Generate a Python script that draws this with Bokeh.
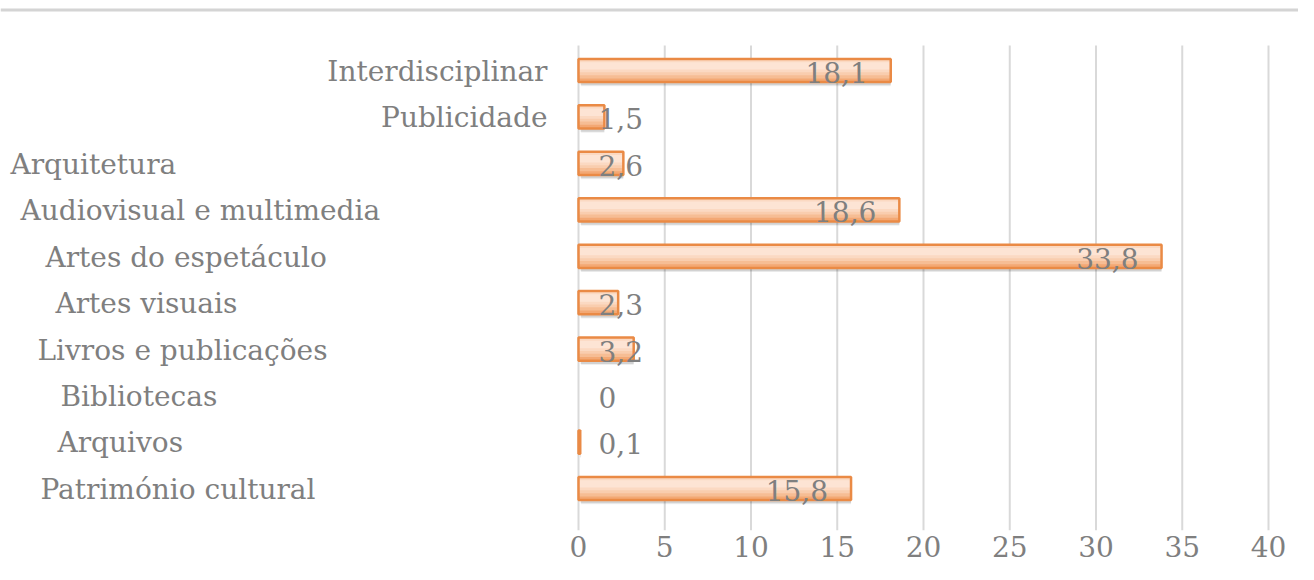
from bokeh.plotting import figure
from bokeh.models import (ColumnDataSource, Range1d, LinearAxis, FixedTicker, Span,
                          CDSView, BooleanFilter)
from bokeh.transform import dodge
from bokeh.core.properties import value
from bokeh.embed import file_html
from bokeh.resources import INLINE

# ---- data (bottom to top) ----
categories = ["Património cultural", "Arquivos", "Bibliotecas", "Livros e publicações",
              "Artes visuais", "Artes do espetáculo", "Audiovisual e multimedia",
              "Arquitetura", "Publicidade", "Interdisciplinar"]
values = [15.8, 0.1, 0.0, 3.2, 2.3, 33.8, 18.6, 2.6, 1.5, 18.1]
value_labels = ["15,8", "0,1", "0", "3,2", "2,3", "33,8", "18,6", "2,6", "1,5", "18,1"]
tick_values = [0, 5, 10, 15, 20, 25, 30, 35, 40]

# ---- layout / style ----
label_px = [40, 57, 60, 37, 55, 45, 20, 10, 547, 547]
label_align = ["left"] * 8 + ["right", "right"]
# gradient bands: (bottom, top, colour) in category units relative to bar centre
bands = [(-0.25, 0.25, "#f3a874"), (-0.17, 0.25, "#f6bd94"), (-0.10, 0.25, "#f9cdae"),
         (-0.04, 0.23, "#fbd9c2"), (0.02, 0.18, "#fde4d4")]

FONT = "DejaVu Serif"
FS = "28px"
GRAY = "#7f7f7f"
W, H = 1298, 572
ZERO_PX = 578
PX_PER_UNIT = 17.25
ROW_PX = 46.44
FRAME_BOTTOM = 530

ys = list(range(len(categories)))
x0 = (0 - ZERO_PX) / PX_PER_UNIT
x1 = (W - ZERO_PX) / PX_PER_UNIT
y_top = 9 + 70 / ROW_PX
y_bot = -(FRAME_BOTTOM - 488) / ROW_PX

p = figure(width=W, height=H, output_backend="svg", toolbar_location=None,
           x_range=Range1d(x0, x1), y_range=Range1d(y_bot, y_top),
           min_border_left=0, min_border_right=0, min_border_top=0,
           min_border_bottom=H - FRAME_BOTTOM,
           x_axis_type=None, y_axis_type=None)
p.outline_line_color = None
p.grid.visible = False
p.background_fill_color = "white"

# top frame line
p.add_layout(Span(location=9 + (70 - 9.5) / ROW_PX, dimension="width",
                  line_color="#d4d4d4", line_width=3))

# vertical gridlines
g_top = 9 + (70 - 45) / ROW_PX
p.segment(x0=tick_values, x1=tick_values, y0=[y_bot] * len(tick_values),
          y1=[g_top] * len(tick_values), line_color="#d9d9d9", line_width=2)

small = [v < 5 for v in values]
src = ColumnDataSource(dict(
    y=ys, v=values, lab=value_labels, cat=categories,
    lx=[0 if s else v for s, v in zip(small, values)],
    lalign=["left" if s else "right" for s in small],
    loff=[20 if s else -23 for s in small],
    cx=[0] * len(categories),
    coff=[px - ZERO_PX for px in label_px],
    calign=label_align,
))
nonzero = CDSView(filter=BooleanFilter([v > 0 for v in values]))

# shadow
p.hbar(y=dodge("y", -0.07), left=0.12, right="v", height=0.5, source=src, view=nonzero,
       fill_color="#000000", fill_alpha=0.12, line_color=None)
p.hbar(y=dodge("y", -0.09), left=0.15, right="v", height=0.5, source=src, view=nonzero,
       fill_color="#000000", fill_alpha=0.06, line_color=None)
# gradient-like fill
for b0, b1, col in bands:
    p.hbar(y=dodge("y", (b0 + b1) / 2), left=0, right="v", height=b1 - b0, source=src,
           view=nonzero, fill_color=col, line_color=None)
# outline
p.hbar(y="y", left=0, right="v", height=0.5, source=src, view=nonzero,
       fill_color=None, line_color="#ea8a45", line_width=2.5)

# value labels
p.text(x="lx", y=dodge("y", -0.04), text="lab", source=src, x_offset="loff",
       text_align="lalign", text_baseline="middle", text_font=value(FONT),
       text_font_size=FS, text_color=GRAY)

# category labels
p.text(x="cx", y=dodge("y", -0.02), text="cat", source=src, x_offset="coff",
       text_align="calign", text_baseline="middle", text_font=value(FONT),
       text_font_size=FS, text_color=GRAY)

# x axis (tick labels only)
ax = LinearAxis(ticker=FixedTicker(ticks=tick_values))
ax.axis_line_color = None
ax.major_tick_line_color = None
ax.minor_tick_line_color = None
ax.major_tick_out = 0
ax.major_label_standoff = 5
ax.major_label_text_font = FONT
ax.major_label_text_font_size = FS
ax.major_label_text_color = GRAY
p.add_layout(ax, "below")

open("out.html", "w").write(file_html(p, INLINE))
